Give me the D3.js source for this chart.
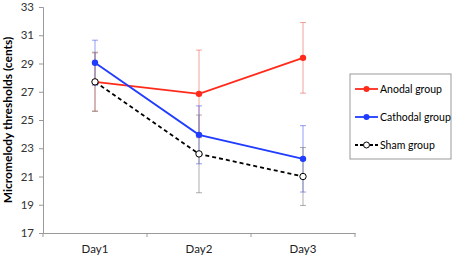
<!DOCTYPE html>
<html>
<head>
<meta charset="utf-8">
<script src="https://cdn.jsdelivr.net/npm/d3@7"></script>
<style>
  body { margin: 0; background: #fff; }
  text { font-family: Lato, "Liberation Sans", sans-serif; }
</style>
</head>
<body>
<div id="chart"></div>
<script>
const days = ["Day1", "Day2", "Day3"];
const yTicks = [17, 19, 21, 23, 25, 27, 29, 31, 33];

const anodal = [27.7, 26.85, 29.4];
const anodalErr = [2.05, 3.1, 2.5];
const cathodal = [29.05, 23.95, 22.25];
const cathodalErr = [1.6, 2.05, 2.35];
const sham = [27.7, 22.6, 21.0];
const shamErr = [2.1, 2.75, 2.05];

const groups = [
    {name: "Anodal group", values: anodal, err: anodalErr, color: "#ff2a1a", errColor: "rgba(230,90,80,0.55)", dash: null, open: false},
    {name: "Cathodal group", values: cathodal, err: cathodalErr, color: "#1f3cff", errColor: "rgba(60,80,230,0.55)", dash: null, open: false},
    {name: "Sham group", values: sham, err: shamErr, color: "#000", errColor: "rgba(120,120,120,0.6)", dash: "4,3", open: true}
];

let margin = {top: 7, right: 99, bottom: 24, left: 43},
    width = 454 - margin.left - margin.right,
    height = 257 - margin.top - margin.bottom;

const svg = d3.select("#chart")
    .append("svg")
    .attr("width", 454)
    .attr("height", 257)
    .append("g")
    .attr("transform", `translate(${margin.left}, ${margin.top})`);

/* scales */
const x = d3.scaleBand().domain(days).range([0, width]);
const y = d3.scaleLinear().domain([17, 33]).range([height, 0]);
const cx = d => x(d) + x.bandwidth() / 2;

/* Y-axis */
const yAxis = svg.append("g")
    .call(d3.axisLeft(y).tickValues(yTicks).tickSize(4).tickPadding(5));
yAxis.select(".domain").attr("stroke", "#999");
yAxis.selectAll(".tick line").attr("stroke", "#999");
yAxis.selectAll("text").attr("font-size", 11.5).attr("fill", "#333")
    .style("font-family", "Lato, sans-serif");

/* X-axis */
const xAxis = svg.append("g")
    .attr("transform", `translate(0, ${height})`)
    .call(d3.axisBottom(x).tickSize(0).tickPadding(12));
xAxis.select(".domain").attr("stroke", "#999");
xAxis.selectAll("text").attr("font-size", 11.5).attr("fill", "#222")
    .style("font-family", "Lato, sans-serif");
svg.append("g").selectAll("line")
    .data(d3.range(days.length + 1))
    .join("line")
    .attr("x1", i => i * x.bandwidth()).attr("x2", i => i * x.bandwidth())
    .attr("y1", height).attr("y2", height + 4)
    .attr("stroke", "#999");

svg.append("text")
    .attr("text-anchor", "middle")
    .attr("transform", "rotate(-90)")
    .attr("x", -height / 2)
    .attr("y", -31)
    .attr("font-size", 12)
    .attr("font-weight", "bold")
    .text("Micromelody thresholds (cents)");

/* error bars (drawn before lines) */
groups.forEach(g => {
    const eb = svg.append("g");
    days.forEach((d, i) => {
        const top = y(g.values[i] + g.err[i]), bot = y(g.values[i] - g.err[i]);
        eb.append("line").attr("x1", cx(d)).attr("x2", cx(d)).attr("y1", top).attr("y2", bot)
            .attr("stroke", g.errColor).attr("stroke-width", 1);
        [top, bot].forEach(v => eb.append("line")
            .attr("x1", cx(d) - 3).attr("x2", cx(d) + 3).attr("y1", v).attr("y2", v)
            .attr("stroke", g.errColor).attr("stroke-width", 1));
    });
});

/* lines and markers */
const line = d3.line().x((v, i) => cx(days[i])).y(v => y(v));
groups.forEach(g => {
    svg.append("path")
        .datum(g.values)
        .attr("d", line)
        .attr("fill", "none")
        .attr("stroke", g.color)
        .attr("stroke-width", 1.8)
        .attr("stroke-dasharray", g.dash);
    svg.selectAll(null)
        .data(g.values)
        .join("circle")
        .attr("cx", (v, i) => cx(days[i]))
        .attr("cy", v => y(v))
        .attr("r", 3.2)
        .attr("fill", g.open ? "#fff" : g.color)
        .attr("stroke", g.color)
        .attr("stroke-width", g.open ? 1 : 0);
});

/* legend */
const legend = svg.append("g").attr("transform", `translate(${350 - margin.left}, ${74 - margin.top})`);
legend.append("rect")
    .attr("width", 101).attr("height", 85)
    .attr("fill", "#fff").attr("stroke", "#999");
groups.forEach((g, i) => {
    const row = legend.append("g").attr("transform", `translate(0, ${15 + i * 28})`);
    row.append("line").attr("x1", 5).attr("x2", 28).attr("y1", 0).attr("y2", 0)
        .attr("stroke", g.color).attr("stroke-width", 1.8).attr("stroke-dasharray", g.dash ? "3,2" : null);
    row.append("circle").attr("cx", 16.5).attr("cy", 0).attr("r", 3)
        .attr("fill", g.open ? "#fff" : g.color).attr("stroke", g.color)
        .attr("stroke-width", g.open ? 1 : 0);
    row.append("text").attr("x", 30).attr("y", 4)
        .attr("font-size", 10.5).attr("fill", "#000").text(g.name);
});
</script>
</body>
</html>
